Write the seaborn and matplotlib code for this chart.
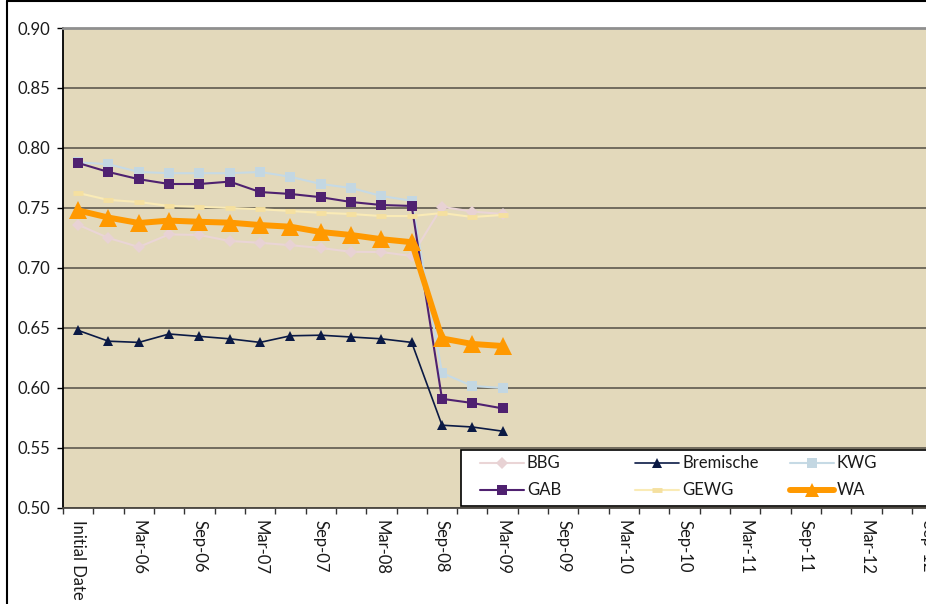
import matplotlib
matplotlib.use("Agg")
import matplotlib.pyplot as plt
from matplotlib.patches import Rectangle
from matplotlib.lines import Line2D
import seaborn as sns
import pandas as pd
import numpy as np

# Quarterly reporting dates (first one is the initial valuation date)
periods = ["Initial Date", "Dec-05", "Mar-06", "Jun-06", "Sep-06", "Dec-06",
           "Mar-07", "Jun-07", "Sep-07", "Dec-07", "Mar-08", "Jun-08",
           "Sep-08", "Dec-08", "Mar-09", "Jun-09", "Sep-09", "Dec-09",
           "Mar-10", "Jun-10", "Sep-10", "Dec-10", "Mar-11", "Jun-11",
           "Sep-11", "Dec-11", "Mar-12", "Jun-12", "Sep-12", "Dec-12"]

bbg = [0.736, 0.725, 0.7175, 0.728, 0.7275, 0.7225, 0.721, 0.719, 0.7167,
       0.7135, 0.7133, 0.710, 0.751, 0.747, 0.745]
bremische = [0.648, 0.639, 0.638, 0.645, 0.643, 0.641, 0.638, 0.6435, 0.644,
             0.6425, 0.641, 0.638, 0.569, 0.5675, 0.564]
kwg = [0.788, 0.7865, 0.780, 0.779, 0.779, 0.779, 0.780, 0.776, 0.770,
       0.7667, 0.760, 0.756, 0.6125, 0.6017, 0.600]
gab = [0.7875, 0.780, 0.774, 0.770, 0.770, 0.772, 0.7633, 0.7617, 0.759,
       0.755, 0.7525, 0.7517, 0.591, 0.5875, 0.583]
gewg = [0.7625, 0.7567, 0.755, 0.7517, 0.751, 0.750, 0.749, 0.7475, 0.746,
        0.745, 0.7433, 0.7433, 0.7458, 0.7425, 0.7442]
wa = [0.748, 0.742, 0.7375, 0.7395, 0.7385, 0.7378, 0.7358, 0.7344, 0.730,
      0.7275, 0.724, 0.7215, 0.6413, 0.6367, 0.635]

series = {"BBG": bbg, "Bremische": bremische, "KWG": kwg,
          "GAB": gab, "GEWG": gewg, "WA": wa}

styles = {
    "BBG":       dict(color="#EAD5D6", lw=1.5, marker="D", ms=6.0, mfc="#E8D2D4", mec="#E8D2D4", mew=0),
    "Bremische": dict(color="#0B1A45", lw=1.2, marker="^", ms=7.0, mfc="#0B1A45", mec="#0B1A45", mew=0),
    "KWG":       dict(color="#C6DAE5", lw=1.5, marker="s", ms=7.8, mfc="#C3D7E2", mec="#C3D7E2", mew=0),
    "GAB":       dict(color="#4F2170", lw=1.5, marker="s", ms=7.8, mfc="#4F2170", mec="#4F2170", mew=0),
    "GEWG":      dict(color="#FAEBB6", lw=1.5, marker="_", ms=7.5, mfc="#F5E0A0", mec="#F5E0A0", mew=3.5),
    "WA":        dict(color="#FF9900", lw=4.3, marker="^", ms=13.5, mfc="#FF9900", mec="#FF9900", mew=0),
}

sns.set_theme(style="white")
plt.rcParams["font.family"] = ["Lato", "DejaVu Sans"]
FS = 12

W, H = 926, 604
fig = plt.figure(figsize=(W / 100, H / 100), dpi=100)
fig.patch.set_facecolor("white")

n_cat = len(periods)
step = 30.32
ax = fig.add_axes([63 / W, 1 - 508 / H, n_cat * step / W, 480 / H])
ax.set_facecolor("#E3D9BB")

for name, vals in series.items():
    st = styles[name]
    df = pd.DataFrame({"x": np.arange(len(vals)), "y": vals})
    sns.lineplot(data=df, x="x", y="y", ax=ax, color=st["color"], linewidth=st["lw"],
                 marker=st["marker"], markersize=st["ms"], markerfacecolor=st["mfc"],
                 markeredgecolor=st["mec"], markeredgewidth=st["mew"],
                 legend=False, solid_joinstyle="round", solid_capstyle="round")

ax.set_xlim(-0.5, n_cat - 0.5)
ax.set_ylim(0.50, 0.90)
ax.set_xlabel("")
ax.set_ylabel("")

# y axis
yt = np.arange(0.50, 0.901, 0.05)
ax.set_yticks(yt)
ax.set_yticklabels([f"{v:.2f}" for v in yt], fontsize=FS, color="#1a1a1a")
ax.yaxis.grid(True, color="#5E594E", linewidth=1.2)
ax.set_axisbelow(True)
ax.tick_params(axis="y", direction="out", length=4, width=1, color="black", pad=5, left=True)

# x axis: category boundaries get ticks, every second date gets a label
ax.set_xticks(np.arange(0, n_cat, 2))
ax.set_xticklabels(periods[::2], rotation=-90, fontsize=FS, color="#1a1a1a",
                   va="top", ha="center")
ax.set_xticks(np.arange(-0.5, n_cat, 1), minor=True)
ax.tick_params(axis="x", which="major", length=0, pad=9)
ax.tick_params(axis="x", which="minor", direction="out", length=4, width=1,
               color="#333333", bottom=True)

for side in ["left", "bottom", "top", "right"]:
    ax.spines[side].set_visible(True)
ax.spines["left"].set_color("black")
ax.spines["left"].set_linewidth(1.3)
ax.spines["bottom"].set_color("#4a4740")
ax.spines["bottom"].set_linewidth(1.3)
ax.spines["top"].set_color("#8f8f8f")
ax.spines["top"].set_linewidth(2)
ax.spines["right"].set_visible(False)

# legend frame and three columns of entries
frame = Rectangle((461 / W, 1 - 506 / H), 600 / W, 56 / H, transform=fig.transFigure,
                  facecolor="white", edgecolor="black", linewidth=1.2,
                  zorder=6, clip_on=False)
ax.add_patch(frame)

def handle(name):
    st = styles[name]
    return Line2D([], [], color=st["color"], lw=st["lw"], marker=st["marker"],
                  ms=st["ms"] * (0.75 if name == "WA" else 1.0), mfc=st["mfc"],
                  mec=st["mec"], mew=st["mew"], solid_capstyle="round")

columns = [(["BBG", "GAB"], 477), (["Bremische", "GEWG"], 632), (["KWG", "WA"], 787)]
legends = []
for names, xpx in columns:
    leg = ax.legend([handle(nm) for nm in names], names, loc="upper left",
                    bbox_to_anchor=(xpx / W, 1 - 453 / H), bbox_transform=fig.transFigure,
                    frameon=False, borderaxespad=0, borderpad=0.15, handlelength=2.65,
                    handletextpad=0.2, labelspacing=0.65, fontsize=FS)
    leg.set_zorder(7)
    for t in leg.get_texts():
        t.set_color("#1a1a1a")
    legends.append(leg)
# the last legend stays as the axes legend; the others are kept as extra artists
for leg in legends[:-1]:
    ax.add_artist(leg)

# outer chart border (top and left edges visible)
fig.add_artist(Line2D([7 / W, 7 / W], [0, 1 - 0.5 / H], transform=fig.transFigure,
                      color="black", lw=1.5))
fig.add_artist(Line2D([7 / W, 1], [1 - 1 / H, 1 - 1 / H], transform=fig.transFigure,
                      color="black", lw=1.5))

fig.savefig("out.png", dpi=100, facecolor="white")
